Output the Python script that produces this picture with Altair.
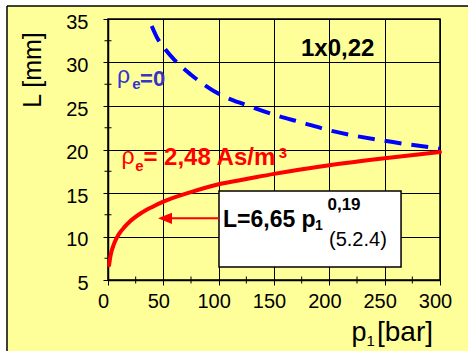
import altair as alt
import pandas as pd

# ---- data ----
p_red = [1, 2, 3, 5, 7.5, 10, 15, 20, 30, 40, 50, 75, 100, 125, 150, 200, 250, 300]
L_red = [6.7, 7.6, 8.2, 9.0, 9.75, 10.3, 11.1, 11.75, 12.7, 13.4, 14.0, 15.1, 16.0, 16.6, 17.2, 18.2, 19.0, 19.7]
p_blue = [39.5, 45, 50, 60, 75, 100, 125, 150, 175, 200, 250, 300]
L_blue = [34.2, 32.7, 31.8, 30.3, 28.6, 26.4, 25.1, 24.0, 23.1, 22.2, 21.0, 20.1]
x_ticks = [0, 50, 100, 150, 200, 250, 300]
y_ticks = [5, 10, 15, 20, 25, 30, 35]
x_minor = [25, 75, 125, 175, 225, 275]
y_minor = [7.5, 12.5, 17.5, 22.5, 27.5, 32.5]

F = "Liberation Sans, Arial, sans-serif"
YEL = "#FFFF99"
RED = "#FF0000"
BLUE = "#0000FF"
TBLUE = "#3535C8"

xs = alt.Scale(domain=[0, 300], nice=False, zero=False)
ys = alt.Scale(domain=[5, 35], nice=False, zero=False)
common = dict(grid=True, gridColor="black", gridWidth=1, gridOpacity=1,
              domainColor="black", domainWidth=1.5, tickColor="black", tickSize=5,
              tickWidth=1, labelFont=F, labelFontSize=20, labelColor="black",
              labelFlush=False, labelOverlap=False, title=None, format="d")
xax = alt.Axis(values=x_ticks, labelPadding=6, labelOffset=-5, **common)
yax = alt.Axis(values=y_ticks, labelPadding=15, labelOffset=3, **common)


def XD(v):
    return alt.XDatum(v, type="quantitative", scale=xs, axis=xax)


def YD(v):
    return alt.YDatum(v, type="quantitative", scale=ys, axis=yax)


one = pd.DataFrame({"k": [0]})

red_df = pd.DataFrame({"p": p_red, "L": L_red})
blue_df = pd.DataFrame({"p": p_blue, "L": L_blue})

layers = []

# outer frame: white strips and black border lines (outside plot)
layers.append(alt.Chart(one).mark_rect(color="white").encode(
    x=alt.value(-108), x2=alt.value(360), y=alt.value(-19), y2=alt.value(-13)))
layers.append(alt.Chart(one).mark_rect(color="white").encode(
    x=alt.value(-108), x2=alt.value(-101), y=alt.value(-19), y2=alt.value(332)))
layers.append(alt.Chart(one).mark_rule(color="black", strokeWidth=1.5).encode(
    x=alt.value(-101), x2=alt.value(360), y=alt.value(-13)))
layers.append(alt.Chart(one).mark_rule(color="black", strokeWidth=1.5).encode(
    x=alt.value(-101), y=alt.value(-13), y2=alt.value(332)))

# minor ticks crossing axes
layers.append(alt.Chart(pd.DataFrame({"p": x_minor})).mark_tick(
    orient="vertical", size=7, thickness=1, color="black", opacity=1).encode(
    x=alt.X("p:Q", scale=xs, axis=xax), y=YD(5)))
layers.append(alt.Chart(pd.DataFrame({"L": y_minor})).mark_tick(
    orient="horizontal", size=7, thickness=1, color="black", opacity=1).encode(
    x=XD(0), y=alt.Y("L:Q", scale=ys, axis=yax)))

# curves
layers.append(alt.Chart(blue_df).mark_line(color=BLUE, strokeWidth=4, strokeDash=[17, 10],
                                           interpolate="monotone").encode(
    x=alt.X("p:Q", scale=xs, axis=xax), y=alt.Y("L:Q", scale=ys, axis=yax)))
layers.append(alt.Chart(red_df).mark_line(color=RED, strokeWidth=4, strokeCap="round",
                                          interpolate="monotone").encode(
    x=alt.X("p:Q", scale=xs, axis=xax), y=alt.Y("L:Q", scale=ys, axis=yax)))


def txt(s, p, L, size, color="black", bold=True):
    return alt.Chart(one).mark_text(text=s, align="left", baseline="alphabetic", font=F,
                                    fontSize=size, fontWeight="bold" if bold else "normal",
                                    color=color).encode(x=XD(p), y=YD(L))


# labels inside plot
layers.append(txt("1x0,22", 174.4, 30.75, 24))
layers.append(txt("ρ", 8.1, 27.64, 23, TBLUE, bold=False))
layers.append(txt("e", 21.9, 26.95, 15, TBLUE))
layers.append(txt("=0", 29.0, 27.30, 22, TBLUE))
layers.append(txt("ρ", 12.2, 18.33, 23, RED, bold=False))
layers.append(txt("e", 24.6, 17.53, 15, RED))
layers.append(txt("= 2,48 As/m", 32.0, 18.22, 24, RED))
layers.append(txt("3", 154.3, 19.02, 15, RED))

# formula box
layers.append(alt.Chart(one).mark_rect(fill="white", stroke="black", strokeWidth=1.5).encode(
    x=XD(100.3), x2=alt.X2Datum(264.8), y=YD(15.23), y2=alt.Y2Datum(6.49)))
layers.append(txt("L=6,65 p", 103.9, 11.13, 23))
layers.append(txt("1", 187.0, 10.75, 14))
layers.append(txt("0,19", 198.3, 13.05, 17))
layers.append(txt("(5.2.4)", 199.7, 8.91, 20, bold=False))

# arrow
layers.append(alt.Chart(one).mark_rule(color=RED, strokeWidth=2).encode(
    x=XD(57.8), x2=alt.X2Datum(100.3), y=YD(12.09)))
layers.append(alt.Chart(one).mark_point(shape="M-1,0L1,-0.8L1,0.8Z", size=196, filled=True,
                                        color=RED, opacity=1, strokeWidth=0).encode(
    x=XD(51.5), y=YD(12.09)))

# axis titles
layers.append(alt.Chart(one).mark_text(text="L [mm]", font=F, fontSize=25, angle=270,
                                       align="center", baseline="middle", color="black").encode(
    x=alt.value(-75.5), y=alt.value(51)))
layers.append(alt.Chart(one).mark_text(text="p", font=F, fontSize=27, align="left",
                                       baseline="alphabetic", color="black").encode(
    x=alt.value(243.5), y=alt.value(322)))
layers.append(alt.Chart(one).mark_text(text="1", font=F, fontSize=15, align="left",
                                       baseline="alphabetic", color="black").encode(
    x=alt.value(258.5), y=alt.value(327)))
layers.append(alt.Chart(one).mark_text(text="[bar]", font=F, fontSize=28, align="left",
                                       baseline="alphabetic", color="black").encode(
    x=alt.value(269), y=alt.value(322)))

chart = alt.layer(*layers).properties(
    width=332, height=261,
    autosize=alt.AutoSizeParams(type="none"),
    padding={"left": 108, "top": 19, "right": 28, "bottom": 71},
).configure(background=YEL).configure_view(stroke="black", strokeWidth=1.5)

chart.save("out.html", embed_options={"renderer": "svg", "actions": False})
